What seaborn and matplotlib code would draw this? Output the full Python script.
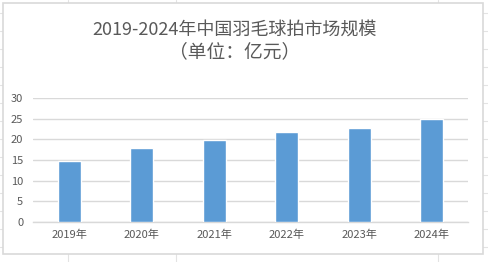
import matplotlib
matplotlib.use("Agg")
import matplotlib.pyplot as plt
from matplotlib.lines import Line2D
from matplotlib.patches import Rectangle
import seaborn as sns
import pandas as pd

years = ["2019年", "2020年", "2021年", "2022年", "2023年", "2024年"]
values = [14.8, 18.0, 19.9, 21.8, 22.7, 25.0]
yticks = [0, 5, 10, 15, 20, 25, 30]
title_line1 = "2019-2024年中国羽毛球拍市场规模"
title_line2 = "（单位：亿元）"

sns.set_theme(style="white")
plt.rcParams['font.family'] = ['Noto Sans CJK SC', 'DejaVu Sans']

W, H = 489, 262
fig = plt.figure(figsize=(W / 100, H / 100), dpi=100)

# spreadsheet background grid
gcol = "#E3E3E3"
for yy in [13.3 + 18 * i for i in range(14)]:
    fig.add_artist(Line2D([0, 1], [1 - yy / H, 1 - yy / H], transform=fig.transFigure,
                          color=gcol, lw=0.8, zorder=-3))
for xx in [67.5, 176.3, 437.7]:
    fig.add_artist(Line2D([xx / W, xx / W], [0, 1], transform=fig.transFigure,
                          color=gcol, lw=0.8, zorder=-3))
# chart frame
fig.add_artist(Rectangle((3.3 / W, 1 - 254 / H), (483.3 - 3.3) / W, (254 - 2.7) / H,
                         transform=fig.transFigure, facecolor="white",
                         edgecolor="#D9D9D9", lw=1.2, zorder=-2))

left, right = 33 / W, 468 / W
bottom = 1 - 221.7 / H
top = 1 - 98.3 / H
ax = fig.add_axes([left, bottom, right - left, top - bottom])
ax.set_facecolor("none")

df = pd.DataFrame({"year": years, "value": values})
sns.barplot(data=df, x="year", y="value", color="#5B9BD5", saturation=1,
            width=0.313, ax=ax, zorder=3)

ax.set_xlim(-0.5, len(years) - 0.5)
ax.set_ylim(0, 30)
ax.set_yticks(yticks)
ax.set_yticklabels([str(t) for t in yticks])
ax.yaxis.grid(True, color="#D9D9D9", lw=1.0, zorder=0)
ax.set_axisbelow(True)
for s in ["left", "right", "top"]:
    ax.spines[s].set_visible(False)
ax.spines["bottom"].set_color("#D9D9D9")
ax.spines["bottom"].set_linewidth(1.0)
ax.tick_params(axis="both", length=0, labelsize=8, colors="#595959")
ax.tick_params(axis="y", pad=7)
ax.tick_params(axis="x", pad=6)
ax.set_xlabel("")
ax.set_ylabel("")

fig.text(234.7 / W, 1 - 29.3 / H, title_line1, ha="center", va="center",
         fontsize=13, color="#595959")
fig.text(234.7 / W, 1 - 51.7 / H, title_line2, ha="center", va="center",
         fontsize=13.5, color="#595959")

fig.savefig("out.png", dpi=100)
